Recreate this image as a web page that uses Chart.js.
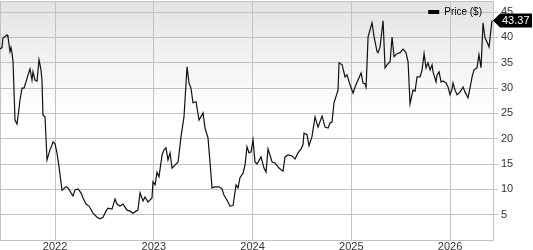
<!DOCTYPE html>
<html>
<head>
<meta charset="utf-8">
<script src="https://cdn.jsdelivr.net/npm/chart.js@4.4.1/dist/chart.umd.min.js"></script>
<style>
  body { margin: 0; background: #fff; }
  canvas { display: block; }
</style>
</head>
<body>
<canvas id="myChart" width="533" height="250"></canvas>
<script>
// dates as decimal years, prices in $
let dates = [
  2021.443, 2021.463, 2021.473, 2021.494, 2021.514, 2021.524, 2021.544, 2021.554, 2021.565, 2021.575,
  2021.595, 2021.615, 2021.625, 2021.646, 2021.666, 2021.686, 2021.706, 2021.727, 2021.747, 2021.767,
  2021.777, 2021.797, 2021.818, 2021.838, 2021.858, 2021.868, 2021.878, 2021.899, 2021.919, 2021.949,
  2021.970, 2021.980, 2022.000, 2022.020, 2022.041, 2022.071, 2022.111, 2022.132, 2022.162, 2022.182,
  2022.203, 2022.233, 2022.263, 2022.284, 2022.314, 2022.344, 2022.385, 2022.425, 2022.456, 2022.486,
  2022.516, 2022.537, 2022.577, 2022.608, 2022.628, 2022.658, 2022.689, 2022.729, 2022.759, 2022.790,
  2022.820, 2022.840, 2022.861, 2022.891, 2022.911, 2022.942, 2022.982, 2022.992, 2023.013, 2023.033,
  2023.053, 2023.084, 2023.104, 2023.124, 2023.144, 2023.165, 2023.185, 2023.215, 2023.246, 2023.276,
  2023.306, 2023.337, 2023.357, 2023.377, 2023.397, 2023.428, 2023.458, 2023.489, 2023.499, 2023.519,
  2023.549, 2023.570, 2023.590, 2023.620, 2023.661, 2023.691, 2023.711, 2023.752, 2023.772, 2023.803,
  2023.833, 2023.853, 2023.873, 2023.904, 2023.924, 2023.944, 2023.965, 2023.985, 2024.005, 2024.025,
  2024.046, 2024.086, 2024.116, 2024.137, 2024.157, 2024.198, 2024.228, 2024.268, 2024.309, 2024.329,
  2024.359, 2024.400, 2024.430, 2024.461, 2024.491, 2024.511, 2024.521, 2024.552, 2024.572, 2024.602,
  2024.633, 2024.663, 2024.704, 2024.734, 2024.765, 2024.785, 2024.805, 2024.825, 2024.856, 2024.866,
  2024.876, 2024.907, 2024.937, 2024.957, 2024.988, 2025.018, 2025.038, 2025.059, 2025.099, 2025.119,
  2025.140, 2025.150, 2025.170, 2025.210, 2025.231, 2025.261, 2025.271, 2025.291, 2025.322, 2025.342,
  2025.362, 2025.393, 2025.413, 2025.433, 2025.463, 2025.494, 2025.524, 2025.554, 2025.575, 2025.595,
  2025.615, 2025.625, 2025.646, 2025.666, 2025.696, 2025.717, 2025.737, 2025.757, 2025.777, 2025.798,
  2025.818, 2025.828, 2025.858, 2025.868, 2025.889, 2025.909, 2025.929, 2025.959, 2025.980, 2026.000,
  2026.020, 2026.030, 2026.051, 2026.071, 2026.101, 2026.132, 2026.152, 2026.182, 2026.202, 2026.223,
  2026.243, 2026.273, 2026.293, 2026.314, 2026.334, 2026.354, 2026.375, 2026.395, 2026.425
];

let prices = [
  37.7, 38.0, 39.9, 40.2, 40.5, 40.1, 37.2, 38.0, 36.9, 35.2,
  23.7, 22.9, 24.3, 27.7, 30.0, 30.0, 31.2, 32.6, 33.8, 31.6,
  33.2, 31.6, 31.4, 35.6, 33.6, 31.6, 24.7, 24.3, 15.8, 17.8,
  18.8, 19.4, 19.0, 17.2, 14.4, 9.8, 10.5, 10.3, 9.3, 8.7,
  9.9, 10.1, 9.3, 8.3, 7.1, 6.7, 5.3, 4.5, 4.2, 4.5,
  5.7, 6.3, 6.1, 8.1, 7.1, 6.7, 7.1, 5.9, 5.7, 5.3,
  5.7, 5.9, 9.3, 7.7, 8.5, 7.5, 8.3, 11.5, 10.9, 13.4,
  12.5, 16.8, 17.8, 18.2, 15.8, 17.2, 14.2, 14.8, 15.4, 20.4,
  24.3, 34.2, 31.0, 30.0, 27.1, 27.3, 23.7, 24.7, 25.1, 22.1,
  20.2, 15.2, 10.3, 10.5, 10.5, 10.1, 8.9, 7.5, 6.7, 6.8,
  10.9, 10.3, 12.3, 13.2, 14.8, 18.4, 17.2, 17.4, 19.8, 15.4,
  15.0, 16.4, 14.2, 13.4, 18.0, 15.4, 15.2, 14.2, 13.6, 16.4,
  16.8, 16.6, 16.0, 17.2, 18.0, 18.8, 21.1, 20.8, 18.6, 20.4,
  24.3, 22.3, 24.5, 22.3, 22.1, 23.1, 23.3, 27.1, 29.0, 29.6,
  35.0, 34.6, 32.2, 32.6, 30.6, 29.0, 30.2, 31.2, 33.0, 31.0,
  30.8, 30.2, 40.1, 42.9, 40.1, 37.2, 37.0, 38.1, 43.3, 34.0,
  34.6, 35.2, 40.1, 36.2, 36.8, 37.0, 37.7, 37.0, 35.2, 26.9,
  28.7, 29.6, 29.4, 32.2, 32.2, 33.6, 36.8, 34.0, 35.0, 33.6,
  34.6, 33.2, 31.2, 32.6, 33.2, 31.2, 31.4, 31.0, 30.2, 28.7,
  29.8, 31.0, 29.6, 28.7, 29.2, 30.2, 29.2, 28.1, 30.0, 32.2,
  33.6, 34.0, 36.6, 34.0, 42.9, 39.9, 39.1, 38.1, 43.37
];

let xTickValues = [2022, 2023, 2024, 2025, 2026];
let xTickLabels = ['2022', '2023', '2024', '2025', '2026'];
let yTickValues = [5, 10, 15, 20, 25, 30, 35, 40, 45];
let yTickLabels = ['5', '10', '15', '20', '25', '30', '35', '40', '45'];

let seriesLabel = 'Price ($)';
let lastPriceLabel = '43.37';

const fontName = '"Liberation Sans", Arial, sans-serif';
const gridGray = '#c2c2c2';

// gray fade at the top of the plot + top/left border
const backgroundPlugin = {
    id: 'bgFade',
    beforeDraw(chart) {
        const { ctx, chartArea } = chart;
        const g = ctx.createLinearGradient(0, chartArea.top, 0, chartArea.top + 110);
        g.addColorStop(0, '#e3e3e3');
        g.addColorStop(1, '#ffffff');
        ctx.save();
        ctx.fillStyle = g;
        ctx.fillRect(chartArea.left, chartArea.top, chartArea.right - chartArea.left, chartArea.bottom - chartArea.top);
        ctx.strokeStyle = gridGray;
        ctx.lineWidth = 1;
        ctx.beginPath();
        ctx.moveTo(chartArea.left + 0.5, chartArea.bottom);
        ctx.lineTo(chartArea.left + 0.5, chartArea.top + 0.5);
        ctx.lineTo(chartArea.right, chartArea.top + 0.5);
        ctx.stroke();
        ctx.restore();
    }
};

// legend key in the top right corner, black price flag at the last point
const overlayPlugin = {
    id: 'overlay',
    afterDraw(chart) {
        const ctx = chart.ctx;
        const area = chart.chartArea;
        ctx.save();

        // legend
        ctx.font = '10px ' + fontName;
        ctx.textBaseline = 'middle';
        const tw = ctx.measureText(seriesLabel).width;
        const tx = area.right - 11 - tw;
        ctx.fillStyle = '#000';
        ctx.fillRect(tx - 16, 10, 11, 4);
        ctx.fillText(seriesLabel, tx, 12.5);

        // last price flag
        const meta = chart.getDatasetMeta(0);
        const pt = meta.data[meta.data.length - 1];
        if (pt) {
            const x = area.right;
            const y = pt.y;
            ctx.fillStyle = '#000';
            ctx.beginPath();
            ctx.moveTo(x, y);
            ctx.lineTo(x + 7, y - 7);
            ctx.lineTo(532, y - 7);
            ctx.lineTo(532, y + 7);
            ctx.lineTo(x + 7, y + 7);
            ctx.closePath();
            ctx.fill();
            ctx.fillStyle = '#fff';
            ctx.font = '11px ' + fontName;
            ctx.fillText(lastPriceLabel, x + 9, y + 0.5);
        }
        ctx.restore();
    }
};

function renderChart() {
    const ctx = document.getElementById('myChart');

    new Chart(ctx, {
        type: 'line',
        data: {
            datasets: [{
                label: seriesLabel,
                data: dates.map((d, i) => ({ x: d, y: prices[i] })),
                borderColor: '#111',
                backgroundColor: '#000',
                borderWidth: 1.2,
                pointRadius: 0,
                tension: 0,
                fill: false
            }]
        },
        options: {
            responsive: false,
            animation: false,
            layout: { padding: { top: 1, left: 0, right: 0, bottom: 0 } },
            plugins: {
                legend: { display: false },
                tooltip: { enabled: false }
            },
            scales: {
                x: {
                    type: 'linear',
                    min: 2021.443,
                    max: 2026.435,
                    afterBuildTicks(scale) {
                        scale.ticks = xTickValues.map(v => ({ value: v }));
                    },
                    afterFit(scale) { scale.height = 10; },
                    ticks: {
                        padding: 0,
                        maxRotation: 0,
                        color: '#333',
                        font: { family: fontName, size: 11 },
                        callback: (v) => xTickLabels[xTickValues.indexOf(v)]
                    },
                    grid: { color: gridGray, drawTicks: false },
                    border: { color: gridGray }
                },
                y: {
                    type: 'linear',
                    position: 'right',
                    min: 0,
                    max: 47.2,
                    afterBuildTicks(scale) {
                        scale.ticks = yTickValues.map(v => ({ value: v }));
                    },
                    afterFit(scale) {
                        scale.width = 40;
                        // no extra room for half a label at the top and bottom
                        scale.paddingTop = 0;
                        scale.paddingBottom = 0;
                    },
                    ticks: {
                        padding: 3,
                        color: '#333',
                        font: { family: fontName, size: 11 },
                        callback: (v) => yTickLabels[yTickValues.indexOf(v)]
                    },
                    grid: { color: gridGray, tickLength: 5 },
                    border: { color: gridGray }
                }
            }
        },
        plugins: [backgroundPlugin, overlayPlugin]
    });
}

renderChart();
</script>
</body>
</html>
